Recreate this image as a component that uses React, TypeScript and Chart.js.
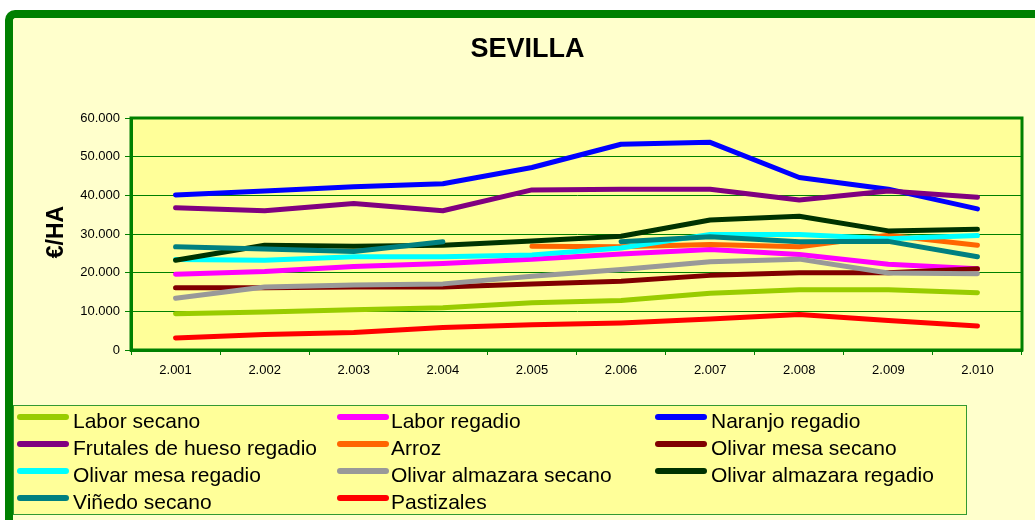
import React, { useEffect, useRef } from 'react';
import { Chart, registerables } from 'chart.js';

Chart.register(...registerables);

const chartTitle = 'SEVILLA';
const yAxisTitle = '€/HA';

const years = ['2.001', '2.002', '2.003', '2.004', '2.005', '2.006', '2.007', '2.008', '2.009', '2.010'];

const laborSecano = [9400, 9800, 10400, 10900, 12200, 12800, 14700, 15600, 15600, 14800];
const laborRegadio = [19600, 20300, 21600, 22400, 23500, 24800, 26000, 24700, 22200, 21000];
const naranjoRegadio = [40100, 41100, 42200, 43000, 47200, 53200, 53700, 44600, 41600, 36500];
const frutalesHuesoRegadio = [36800, 36000, 37900, 36000, 41400, 41600, 41600, 38800, 41100, 39500];
const arroz = [null, null, null, null, 26800, 26700, 27300, 26700, 29700, 27100];
const olivarMesaSecano = [16100, 16100, 16300, 16300, 17100, 17800, 19300, 20000, 20000, 21000];
const olivarMesaRegadio = [23400, 23200, 24100, 24100, 24600, 26400, 29900, 29900, 28800, 29600];
const olivarAlmazaraSecano = [13400, 16300, 16800, 17100, 19100, 20800, 22800, 23500, 19900, 19700];
const olivarAlmazaraRegadio = [23200, 27100, 26800, 27100, 28200, 29400, 33600, 34600, 30800, 31200];
const vinedoSecano = [26700, 26100, 25500, 28000, null, 28000, 29300, 28000, 28100, 24100];
const pastizales = [3100, 4000, 4500, 5800, 6500, 7000, 8000, 9200, 7600, 6200];

const seriesNames = [
  'Labor secano',
  'Labor regadio',
  'Naranjo regadio',
  'Frutales de hueso regadio',
  'Arroz',
  'Olivar mesa secano',
  'Olivar mesa regadio',
  'Olivar almazara secano',
  'Olivar almazara regadio',
  'Viñedo secano',
  'Pastizales',
];
const seriesValues = [
  laborSecano,
  laborRegadio,
  naranjoRegadio,
  frutalesHuesoRegadio,
  arroz,
  olivarMesaSecano,
  olivarMesaRegadio,
  olivarAlmazaraSecano,
  olivarAlmazaraRegadio,
  vinedoSecano,
  pastizales,
];
const seriesColors = [
  '#99CC00',
  '#FF00FF',
  '#0000FF',
  '#800080',
  '#FF6600',
  '#800000',
  '#00FFFF',
  '#999999',
  '#003300',
  '#008080',
  '#FF0000',
];

const yMin = 0;
const yMax = 60000;
const yStep = 10000;

const FONT = '"Liberation Sans", Arial, Helvetica, sans-serif';
const GREEN = '#008000';

function fmt(v: number): string {
  return String(Math.round(v)).replace(/\B(?=(\d{3})+(?!\d))/g, '.');
}

export default function App() {
  const ref = useRef<HTMLCanvasElement>(null);

  useEffect(() => {
    const canvas = ref.current;
    if (!canvas) return;

    const decorPlugin = {
      id: 'decor',
      beforeDraw(chart: any) {
        const { ctx, chartArea: a } = chart;
        ctx.save();
        ctx.fillStyle = '#FFFF99';
        ctx.fillRect(a.left, a.top, a.right - a.left, a.bottom - a.top);
        ctx.restore();
      },
      beforeDatasetsDraw(chart: any) {
        const { ctx, chartArea: a } = chart;
        ctx.save();
        ctx.strokeStyle = GREEN;
        ctx.lineWidth = 3;
        ctx.strokeRect(a.left, a.top, a.right - a.left, a.bottom - a.top);
        ctx.restore();
      },
      afterDraw(chart: any) {
        const { ctx } = chart;
        ctx.save();
        // Title
        ctx.fillStyle = '#000';
        ctx.font = `bold 27px ${FONT}`;
        ctx.textAlign = 'center';
        ctx.textBaseline = 'alphabetic';
        ctx.fillText(chartTitle, 514.5, 39);
        // Y axis title
        ctx.save();
        ctx.translate(50, 214);
        ctx.rotate(-Math.PI / 2);
        ctx.font = `bold 23px ${FONT}`;
        ctx.textAlign = 'center';
        ctx.textBaseline = 'alphabetic';
        ctx.fillText(yAxisTitle, 0, 0);
        ctx.restore();

        // Legend
        const bx = 0.5, by = 387.5, bw = 953, bh = 109;
        ctx.fillStyle = '#FFFF99';
        ctx.fillRect(bx, by, bw, bh);
        ctx.strokeStyle = '#339933';
        ctx.lineWidth = 1;
        ctx.strokeRect(bx, by, bw, bh);

        const lineX = [4, 324, 642];
        const textX = [60, 378, 698];
        const rowY = [399, 426, 453, 480];
        ctx.font = `21px ${FONT}`;
        ctx.textAlign = 'left';
        ctx.textBaseline = 'alphabetic';
        chart.data.datasets.forEach((ds: any, i: number) => {
          const r = Math.floor(i / 3);
          const c = i % 3;
          const y = rowY[r];
          ctx.strokeStyle = ds.borderColor;
          ctx.lineWidth = 6;
          ctx.lineCap = 'round';
          ctx.beginPath();
          ctx.moveTo(lineX[c] + 3, y);
          ctx.lineTo(lineX[c] + 52 - 3, y);
          ctx.stroke();
          ctx.fillStyle = '#000';
          ctx.fillText(ds.label, textX[c], y + 10.5);
        });
        ctx.restore();
      },
    };

    const chart = new Chart(canvas, {
      type: 'line',
      data: {
        labels: years,
        datasets: seriesNames.map((name, i) => ({
          label: name,
          data: seriesValues[i],
          borderColor: seriesColors[i],
          backgroundColor: seriesColors[i],
          borderWidth: 5,
          pointRadius: 0,
          pointHoverRadius: 0,
          tension: 0,
          spanGaps: false,
          borderCapStyle: 'round',
          borderJoinStyle: 'round',
          fill: false,
          order: -i,
        })),
      },
      options: {
        responsive: false,
        animation: false,
        events: [],
        layout: { padding: { top: 100, right: 13, bottom: 130, left: 0 } },
        plugins: {
          legend: { display: false },
          title: { display: false },
          tooltip: { enabled: false },
        },
        scales: {
          x: {
            type: 'category',
            offset: true,
            grid: {
              offset: true,
              drawOnChartArea: false,
              drawTicks: true,
              tickLength: 5,
              color: GREEN,
              lineWidth: 1,
            },
            border: { display: true, color: GREEN, width: 3 },
            ticks: {
              font: { family: FONT, size: 13 },
              color: '#000',
              padding: 8,
              maxRotation: 0,
              autoSkip: false,
            },
            afterFit(scale: any) {
              scale.height = 40;
            },
          },
          y: {
            min: yMin,
            max: yMax,
            grid: {
              color: GREEN,
              lineWidth: 1,
              drawTicks: true,
              tickLength: 6,
            },
            border: { display: true, color: GREEN, width: 3 },
            ticks: {
              stepSize: yStep,
              font: { family: FONT, size: 13 },
              color: '#000',
              padding: 5,
              callback: (v: any) => fmt(Number(v)),
            },
            afterFit(scale: any) {
              scale.width = 118;
            },
          },
        },
      },
      plugins: [decorPlugin],
    } as any);

    return () => chart.destroy();
  }, []);

  return (
    <div
      style={{
        position: 'fixed',
        left: 5,
        top: 10,
        width: 1050,
        height: 530,
        borderLeft: `8px solid ${GREEN}`,
        borderTop: `8px solid ${GREEN}`,
        borderTopLeftRadius: 10,
        background: '#FFFFCC',
        boxSizing: 'border-box',
      }}
    >
      <canvas ref={ref} width={1022} height={502} style={{ display: 'block', width: 1022, height: 502 }} />
    </div>
  );
}
